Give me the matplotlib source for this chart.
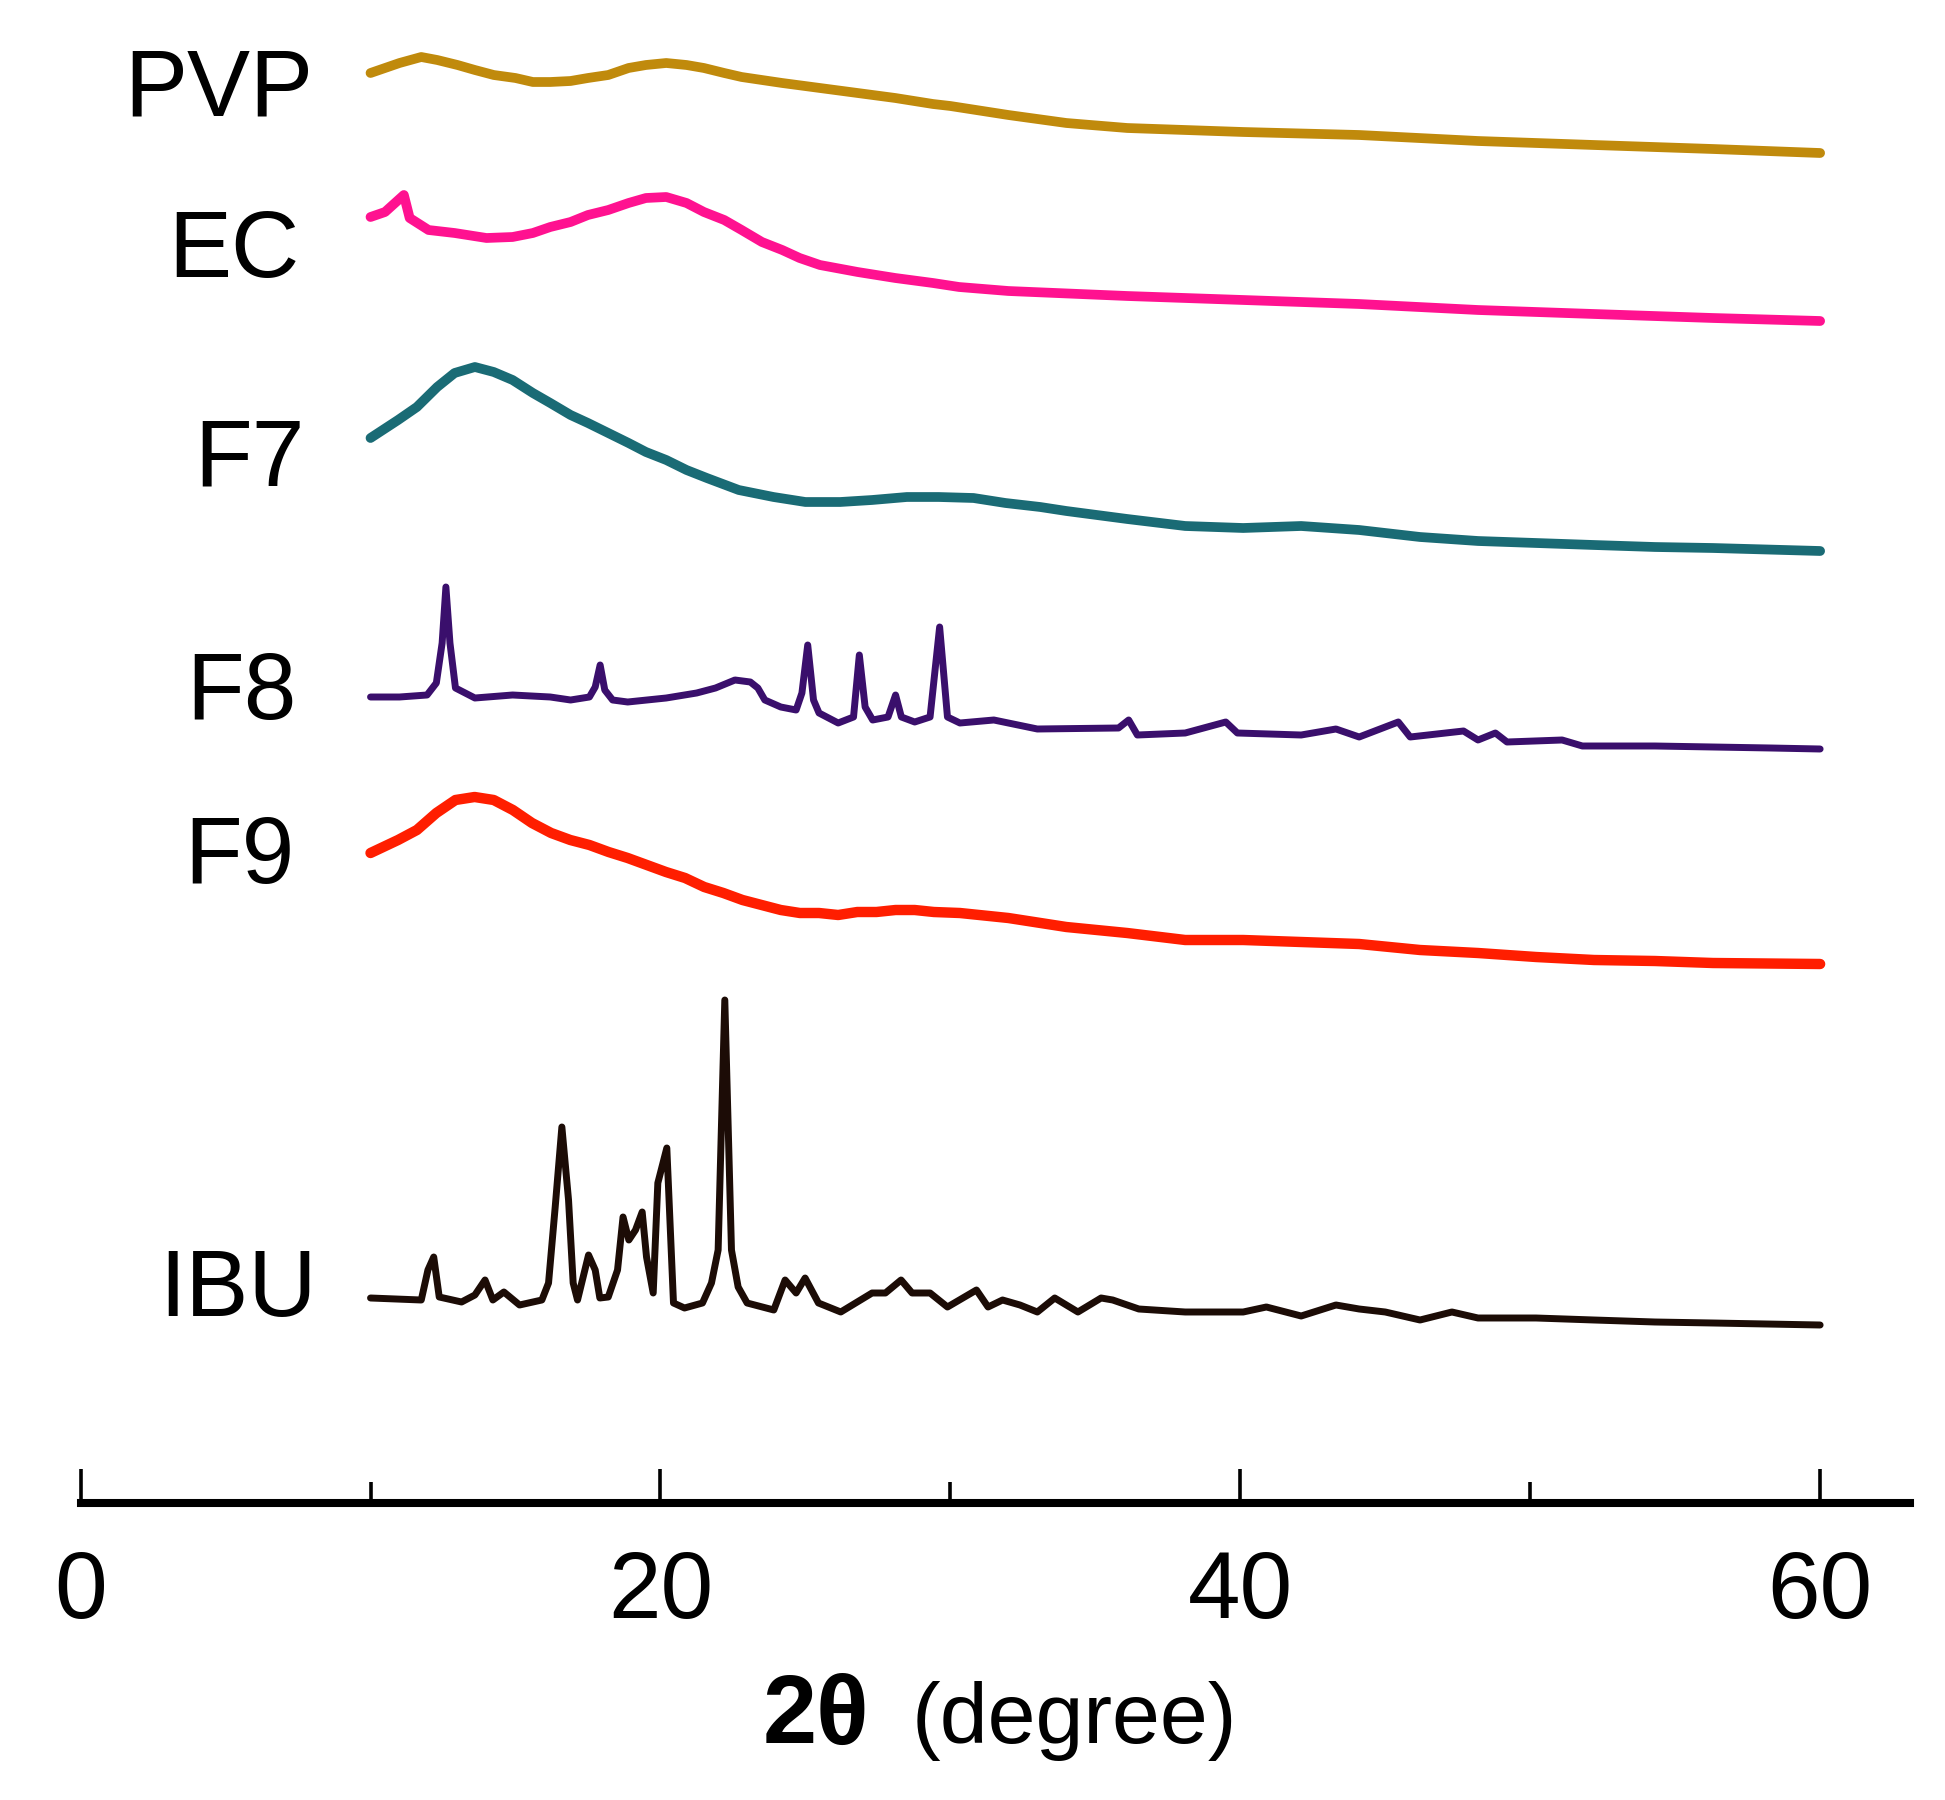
import matplotlib
matplotlib.use("Agg")
import matplotlib.pyplot as plt

plt.rcParams['font.family'] = ['Liberation Sans', 'DejaVu Sans']

# ---------------- data (2θ in degrees, stacked intensity in a.u.) ----------------
pvp_theta = [10.0, 11.0, 11.75, 12.3, 13.0, 13.6, 14.25, 15.0, 15.6, 16.2, 16.9, 17.5, 18.2,
             18.9, 19.5, 20.2, 20.9, 21.5, 22.2, 22.8, 24.2, 25.5, 26.8, 28.1, 29.4, 30.0,
             32.0, 34.0, 36.1, 40.1, 44.1, 48.2, 52.2, 56.3, 60.0]
pvp_int = [1430, 1440, 1446, 1443, 1438, 1433, 1428, 1425, 1421, 1421, 1422, 1425, 1428,
           1435, 1438, 1440, 1438, 1435, 1430, 1426, 1420, 1415, 1410, 1405, 1399, 1397,
           1388, 1380, 1375, 1371, 1368, 1362, 1358, 1354, 1350]

ec_theta = [10.0, 10.5, 11.15, 11.35, 12.0, 12.9, 14.0, 14.9, 15.6, 16.2, 16.9, 17.5, 18.2,
            18.9, 19.5, 20.2, 20.9, 21.5, 22.2, 22.8, 23.5, 24.2, 24.8, 25.5, 26.8, 28.1,
            29.4, 30.3, 32.0, 36.1, 40.1, 44.1, 48.2, 52.2, 56.3, 60.0]
ec_int = [1286, 1291, 1308, 1285, 1273, 1270, 1265, 1266, 1270, 1276, 1281, 1288, 1293,
          1300, 1305, 1306, 1300, 1291, 1283, 1273, 1261, 1253, 1245, 1238, 1231, 1225,
          1220, 1216, 1212, 1207, 1203, 1199, 1193, 1189, 1185, 1182]

f7_theta = [10.0, 10.95, 11.6, 12.3, 12.9, 13.6, 14.25, 14.9, 15.6, 16.2, 16.9, 17.5, 18.2,
            18.9, 19.5, 20.2, 20.9, 21.6, 22.7, 23.9, 25.0, 26.2, 27.3, 28.5, 29.6, 30.8,
            31.9, 33.1, 34.0, 36.1, 38.1, 40.1, 42.1, 44.1, 46.2, 48.2, 50.2, 52.2, 54.3,
            56.3, 60.0]
f7_int = [1065, 1083, 1096, 1116, 1130, 1136, 1131, 1123, 1110, 1100, 1088, 1080, 1070,
          1060, 1051, 1043, 1033, 1025, 1013, 1006, 1001, 1001, 1003, 1006, 1006, 1005,
          1000, 996, 992, 984, 977, 975, 977, 973, 966, 962, 960, 958, 956, 955, 952]

f8_theta = [10.0, 11.0, 11.95, 12.27, 12.47, 12.6, 12.74, 12.93, 13.6, 14.9, 16.2, 16.9,
            17.55, 17.75, 17.92, 18.08, 18.35, 18.87, 20.2, 21.25, 21.9, 22.57, 23.1, 23.36,
            23.6, 24.15, 24.68, 24.88, 25.08, 25.28, 25.47, 26.13, 26.66, 26.86, 27.06,
            27.32, 27.85, 28.11, 28.31, 28.77, 29.3, 29.63, 29.9, 30.33, 31.5, 33.0, 35.8,
            36.15, 36.45, 38.1, 39.5, 39.9, 42.1, 43.3, 44.1, 45.45, 45.86, 47.7, 48.2,
            48.8, 49.2, 51.1, 51.8, 54.3, 58.3, 60.0]
f8_int = [806, 806, 808, 820, 860, 916, 860, 815, 805, 808, 806, 803,
          806, 816, 838, 813, 803, 801, 805, 810, 815, 823, 821, 815,
          803, 796, 793, 810, 858, 803, 790, 780, 786, 848, 796,
          783, 786, 808, 786, 781, 786, 876, 786, 780, 783, 774, 775,
          783, 768, 770, 781, 770, 768, 774, 766, 781, 766, 772, 763,
          770, 761, 763, 757, 757, 755, 754]

f9_theta = [10.0, 10.95, 11.6, 12.27, 12.93, 13.59, 14.25, 14.91, 15.57, 16.23, 16.89, 17.55,
            18.21, 18.87, 19.53, 20.19, 20.85, 21.51, 22.17, 22.83, 23.49, 24.15, 24.81,
            25.47, 26.13, 26.79, 27.45, 28.11, 28.77, 29.43, 30.33, 32.0, 34.0, 36.1, 38.1,
            40.1, 42.1, 44.1, 46.2, 48.2, 50.2, 52.2, 54.3, 56.3, 60.0]
f9_int = [650, 663, 673, 690, 703, 706, 703, 693, 680, 670, 663, 658,
          651, 645, 638, 631, 625, 616, 610, 603, 598, 593, 590,
          590, 588, 591, 591, 593, 593, 591, 590, 585, 576, 570, 563,
          563, 561, 559, 553, 550, 546, 543, 542, 540, 539]

ibu_theta = [10.0, 11.75, 11.98, 12.18, 12.37, 13.14, 13.6, 13.95, 14.22, 14.6, 15.14, 15.91,
             16.14, 16.37, 16.6, 16.83, 16.99, 17.14, 17.52, 17.75, 17.91, 18.2, 18.52, 18.71,
             18.91, 19.14, 19.37, 19.52, 19.75, 19.91, 20.22, 20.45, 20.83, 21.45, 21.76,
             21.99, 22.22, 22.45, 22.68, 22.99, 23.91, 24.3, 24.68, 24.99, 25.45, 26.22,
             27.3, 27.76, 28.3, 28.68, 29.3, 29.9, 30.9, 31.3, 31.8, 32.4, 33.0, 33.6, 34.4,
             35.2, 35.6, 36.5, 38.1, 40.1, 40.9, 42.1, 43.3, 44.1, 45.0, 46.2, 47.3, 48.2,
             50.2, 52.2, 54.3, 56.3, 60.0]
ibu_int = [205, 203, 233, 246, 206, 201, 208, 223, 203, 211, 198, 203,
           220, 296, 376, 303, 220, 203, 248, 233, 205, 206, 233, 286,
           263, 273, 291, 246, 210, 320, 355, 200, 195, 200, 220,
           253, 503, 253, 216, 200, 193, 223, 210, 225, 200, 191,
           210, 210, 223, 210, 210, 196, 213, 196, 203, 198, 191, 205, 191,
           205, 203, 194, 191, 191, 196, 187, 198, 194, 191, 183, 191, 185,
           185, 183, 181, 180, 178]

sample_names = ["PVP", "EC", "F7", "F8", "F9", "IBU"]
x_ticks = [0, 20, 40, 60]
x_minor_ticks = [10, 30, 50]

# ---------------- styling / layout ----------------
series = [
    (pvp_theta, pvp_int, "#C08A0C", 7.0),
    (ec_theta, ec_int, "#FF1290", 7.0),
    (f7_theta, f7_int, "#1A6B75", 7.0),
    (f8_theta, f8_int, "#3A0F6C", 5.0),
    (f9_theta, f9_int, "#FF1E00", 7.5),
    (ibu_theta, ibu_int, "#1C0C06", 5.0),
]
# label anchor (right edge x, baseline y) in figure pixels from top-left
label_pos = [(313, 115), (300, 277), (305, 485), (297, 719), (295, 883), (317, 1316)]

W, H = 1945, 1800
AXIS_Y = 1503
fig = plt.figure(figsize=(W / 100, H / 100), dpi=100)
ax = fig.add_axes([80.6 / W, (H - AXIS_Y) / H, (1910 - 80.6) / W, AXIS_Y / H])
ax.set_xlim(0, 63.1)
ax.set_ylim(0, AXIS_Y)

for th, val, col, lw in series:
    ax.plot(th, val, color=col, lw=lw, solid_joinstyle='round', solid_capstyle='round',
            clip_on=False)

for s in ("left", "top", "right"):
    ax.spines[s].set_visible(False)
ax.spines["bottom"].set_linewidth(5.8)
ax.set_yticks([])
ax.set_xticks(x_ticks)
ax.set_xticks(x_minor_ticks, minor=True)
ax.set_xticklabels([str(t) for t in x_ticks])
ax.tick_params(axis='x', which='major', direction='in', length=24.5, width=2.6,
               pad=33, labelsize=68)
ax.tick_params(axis='x', which='minor', direction='in', length=15, width=2.6)

for name, (xr, yb) in zip(sample_names, label_pos):
    fig.text(xr / W, (H - yb) / H, name, ha='right', va='baseline', fontsize=68)

fig.text(763 / W, (H - 1743) / H, "2θ", ha='left', va='baseline', fontsize=70,
         fontweight='bold')
fig.text(912 / W, (H - 1743) / H, "(degree)", ha='left', va='baseline', fontsize=62)

fig.savefig("out.png", dpi=100, facecolor='white')
